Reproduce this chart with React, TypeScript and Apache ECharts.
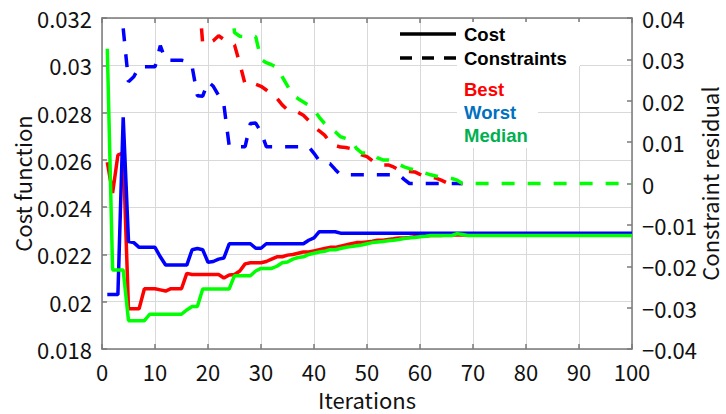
import React, { useEffect, useRef } from "react";
import * as echarts from "echarts";

// Cost function values per iteration (1..100)
const costBest: number[] = [
  0.0259, 0.0246, 0.0262, 0.0263, 0.0197, 0.0197, 0.0197, 0.02055, 0.02055, 0.02055,
  0.0205, 0.02045, 0.02055, 0.02055, 0.02055, 0.0212, 0.02115, 0.02115, 0.02115, 0.02115,
  0.02115, 0.02115, 0.021, 0.02113, 0.02115, 0.0213, 0.0216, 0.02165, 0.02165, 0.02165,
  0.0217, 0.0218, 0.0219, 0.0219, 0.02197, 0.022, 0.02205, 0.0221, 0.0221, 0.02215,
  0.0222, 0.02225, 0.0223, 0.0223, 0.02235, 0.0224, 0.02245, 0.0225, 0.0225, 0.02253,
  0.02256, 0.0226, 0.0226, 0.02263, 0.02266, 0.0227, 0.0227, 0.02272, 0.02275, 0.02277,
  0.02278, 0.0228, 0.0228, 0.0228, 0.02282, 0.02282, 0.02282, 0.02282, 0.02282, 0.02282,
  0.02282, 0.02282, 0.02282, 0.02282, 0.02282, 0.02282, 0.02282, 0.02282, 0.02282, 0.02282,
  0.02282, 0.02282, 0.02282, 0.02282, 0.02282, 0.02282, 0.02282, 0.02282, 0.02282, 0.02282,
  0.02282, 0.02282, 0.02282, 0.02282, 0.02282, 0.02282, 0.02282, 0.02282, 0.02282, 0.02282,
];

const costWorst: number[] = [
  0.0203, 0.0203, 0.0203, 0.0278, 0.02255, 0.0225, 0.0223, 0.0223, 0.0223, 0.0223,
  0.0219, 0.02155, 0.02155, 0.02155, 0.02155, 0.02155, 0.0222, 0.02225, 0.0222, 0.02167,
  0.0217, 0.0218, 0.02185, 0.02245, 0.02245, 0.02245, 0.02245, 0.02245, 0.02226, 0.02226,
  0.02245, 0.02245, 0.02245, 0.02245, 0.02245, 0.02245, 0.02245, 0.02245, 0.0226, 0.0227,
  0.02296, 0.02296, 0.02296, 0.02296, 0.0229, 0.0229, 0.0229, 0.0229, 0.0229, 0.0229,
  0.0229, 0.0229, 0.0229, 0.0229, 0.0229, 0.0229, 0.0229, 0.0229, 0.0229, 0.0229,
  0.0229, 0.0229, 0.0229, 0.0229, 0.0229, 0.0229, 0.0229, 0.0229, 0.0229, 0.0229,
  0.0229, 0.0229, 0.0229, 0.0229, 0.0229, 0.0229, 0.0229, 0.0229, 0.0229, 0.0229,
  0.0229, 0.0229, 0.0229, 0.0229, 0.0229, 0.0229, 0.0229, 0.0229, 0.0229, 0.0229,
  0.0229, 0.0229, 0.0229, 0.0229, 0.0229, 0.0229, 0.0229, 0.0229, 0.0229, 0.0229,
];

const costMedian: number[] = [
  0.0307, 0.02134, 0.02134, 0.02134, 0.0192, 0.0192, 0.0192, 0.0192, 0.01947, 0.01947,
  0.01947, 0.01947, 0.01947, 0.01947, 0.01947, 0.01965, 0.0198, 0.0198, 0.02054, 0.02054,
  0.02054, 0.02054, 0.02054, 0.02054, 0.0211, 0.0211, 0.0211, 0.0211, 0.0213, 0.02141,
  0.02141, 0.02141, 0.0215, 0.02165, 0.02168, 0.0218, 0.02187, 0.0219, 0.022, 0.02205,
  0.0221, 0.02213, 0.0222, 0.0222, 0.02225, 0.0223, 0.02233, 0.02237, 0.0224, 0.02245,
  0.0225, 0.02253, 0.02255, 0.02258, 0.0226, 0.02263, 0.02267, 0.0227, 0.02272, 0.02275,
  0.02277, 0.0228, 0.0228, 0.0228, 0.0228, 0.0228, 0.02288, 0.02284, 0.0228, 0.0228,
  0.0228, 0.0228, 0.0228, 0.0228, 0.0228, 0.0228, 0.0228, 0.0228, 0.0228, 0.0228,
  0.0228, 0.0228, 0.0228, 0.0228, 0.0228, 0.0228, 0.0228, 0.0228, 0.0228, 0.0228,
  0.0228, 0.0228, 0.0228, 0.0228, 0.0228, 0.0228, 0.0228, 0.0228, 0.0228, 0.0228,
];

// Constraint residual values per iteration (1..100); null = not drawn
const N = null;
const conBest: (number | null)[] = [
  N, N, N, N, N, N, N, N, N, N,
  N, N, N, N, N, N, N, 0.05, 0.0338, 0.0338,
  0.0345, 0.0357, 0.0348, 0.0343, 0.0335, 0.029, 0.024, 0.024, 0.024, 0.0235,
  0.0226, 0.0215, 0.0206, 0.019, 0.0178, 0.0176, 0.0172, 0.0165, 0.0152, 0.0137,
  0.0127, 0.0117, 0.01, 0.0092, 0.0088, 0.0087, 0.0084, 0.0075, 0.0069, 0.0065,
  0.0055, 0.0047, 0.0045, 0.0045, 0.004, 0.0033, 0.0029, 0.0029, 0.0028, 0.0022,
  0.0017, 0.0015, 0.0013, 0.0008, 0.0002, 0, 0, 0, N, N,
  N, N, N, N, N, N, N, N, N, N,
  N, N, N, N, N, N, N, N, N, N,
  N, N, N, N, N, N, N, N, N, N,
];

const conWorst: (number | null)[] = [
  N, N, N, 0.0375, 0.0246, 0.0258, 0.0282, 0.0282, 0.0282, 0.0282,
  0.0333, 0.0298, 0.0298, 0.0298, 0.0298, 0.0295, 0.0283, 0.0212, 0.0211, 0.0246,
  0.0235, 0.0213, 0.019, 0.0091, 0.0089, 0.0089, 0.0089, 0.0145, 0.0146, 0.0125,
  0.0089, 0.0089, 0.0089, 0.0089, 0.0089, 0.0089, 0.0089, 0.0089, 0.0089, 0.0073,
  0.0055, 0.005, 0.0048, 0.0034, 0.0021, 0.0021, 0.0021, 0.0021, 0.0021, 0.0021,
  0.0021, 0.0021, 0.0021, 0.0021, 0.0021, 0.0021, 0.001, 0, 0, 0,
  0, 0, 0, 0, 0, 0, 0, 0, N, N,
  N, N, N, N, N, N, N, N, N, N,
  N, N, N, N, N, N, N, N, N, N,
  N, N, N, N, N, N, N, N, N, N,
];

const conMedian: (number | null)[] = [
  N, N, N, N, N, N, N, N, N, N,
  N, N, N, N, N, N, N, N, N, N,
  N, N, N, 0.05, 0.0365, 0.0356, 0.0355, 0.0355, 0.0355, 0.03,
  0.0292, 0.0287, 0.0281, 0.0258, 0.0236, 0.0214, 0.0205, 0.0197, 0.0189, 0.0178,
  0.016, 0.0145, 0.0134, 0.0125, 0.0113, 0.0109, 0.0105, 0.0085, 0.0074, 0.0074,
  0.0073, 0.0062, 0.0057, 0.0057, 0.0055, 0.0047, 0.004, 0.0036, 0.0033, 0.003,
  0.0025, 0.0021, 0.0018, 0.0016, 0.0014, 0.0012, 0.0008, 0, 0, 0,
  0, 0, 0, 0, 0, 0, 0, 0, 0, 0,
  0, 0, 0, 0, 0, 0, 0, 0, 0, 0,
  0, 0, 0, 0, 0, 0, 0, 0, 0, 0,
];

const seriesNames = ["Best", "Worst", "Median"];
const lineColors = ["#ff0000", "#0000ff", "#00ff00"];
const legendTextColors = ["#ff0000", "#0070c0", "#00b050"];

const xTitle = "Iterations";
const yLeftTitle = "Cost function";
const yRightTitle = "Constraint residual";

const FONT = '"Noto Sans CJK JP", "Noto Sans", sans-serif';
const LEGEND_FONT = 'bold 18.5px "Liberation Sans", Arial, sans-serif';
const AXIS_COLOR = "#7a7a7a";
const GRID_COLOR = "#d9d9d9";

const toPairs = (arr: (number | null)[]) => arr.map((v, i) => [i + 1, v]);

export default function App() {
  const ref = useRef<HTMLDivElement>(null);

  useEffect(() => {
    if (!ref.current) return;
    const chart = echarts.init(ref.current, undefined, { renderer: "svg" });

    const costSets = [costBest, costWorst, costMedian];
    const conSets = [conBest, conWorst, conMedian];

    const series: any[] = [];
    costSets.forEach((arr, k) => {
      series.push({
        name: seriesNames[k] + " cost",
        type: "line",
        xAxisIndex: 0,
        yAxisIndex: 0,
        data: toPairs(arr),
        showSymbol: false,
        symbol: "none",
        lineStyle: { color: lineColors[k], width: 3.5 },
        z: 3,
      });
    });
    conSets.forEach((arr, k) => {
      series.push({
        name: seriesNames[k] + " constraints",
        type: "line",
        xAxisIndex: 0,
        yAxisIndex: 1,
        data: toPairs(arr),
        showSymbol: false,
        symbol: "none",
        connectNulls: false,
        lineStyle: { color: lineColors[k], width: 3.5, type: [13, 13] },
        z: 4,
      });
    });

    const labelStyle = { fontFamily: FONT, fontSize: 22, color: "#111", lineHeight: 22 };
    const nameStyle = { fontFamily: FONT, fontSize: 22, color: "#111", lineHeight: 22 };
    const axisLine = { show: true, onZero: false, lineStyle: { color: AXIS_COLOR, width: 1.5 } };
    const axisTick = { show: true, inside: true, length: 5, lineStyle: { color: AXIS_COLOR, width: 1.5 } };

    const option: any = {
      animation: false,
      backgroundColor: "#ffffff",
      grid: {
        left: 102,
        right: 94,
        top: 18,
        bottom: 65,
        containLabel: false,
        outerBoundsMode: "none",
      },
      xAxis: [
        {
          type: "value",
          position: "bottom",
          min: 0,
          max: 100,
          interval: 10,
          name: xTitle,
          nameLocation: "middle",
          nameGap: 39,
          nameMoveOverlap: false,
          nameTextStyle: nameStyle,
          axisLine,
          axisTick,
          axisLabel: { ...labelStyle, margin: 11 },
          splitLine: { show: true, lineStyle: { color: GRID_COLOR, width: 1 } },
        },
        {
          type: "value",
          position: "top",
          min: 0,
          max: 100,
          interval: 10,
          axisLine,
          axisTick,
          axisLabel: { show: false },
          splitLine: { show: false },
        },
      ],
      yAxis: [
        {
          type: "value",
          position: "left",
          min: 0.018,
          max: 0.032,
          interval: 0.002,
          name: yLeftTitle,
          nameLocation: "middle",
          nameGap: 69,
          nameRotate: 90,
          nameMoveOverlap: false,
          nameTextStyle: nameStyle,
          axisLine,
          axisTick,
          axisLabel: {
            ...labelStyle,
            margin: 10,
            formatter: (v: number) => String(parseFloat(v.toFixed(4))),
          },
          splitLine: { show: true, lineStyle: { color: GRID_COLOR, width: 1 } },
        },
        {
          type: "value",
          position: "right",
          min: -0.04,
          max: 0.04,
          interval: 0.01,
          name: yRightTitle,
          nameLocation: "middle",
          nameGap: 66,
          nameRotate: 90,
          nameMoveOverlap: false,
          nameTextStyle: nameStyle,
          axisLine,
          axisTick,
          axisLabel: {
            ...labelStyle,
            margin: 10,
            formatter: (v: number) => String(parseFloat(v.toFixed(4))).replace("-", "\u2212"),
          },
          splitLine: { show: false },
        },
      ],
      series,
      graphic: [
        { type: "rect", z: 1, shape: { x: 457, y: 22, width: 123, height: 44 }, style: { fill: "#ffffff" } },
        { type: "rect", z: 1, shape: { x: 457, y: 66, width: 81, height: 82 }, style: { fill: "#ffffff" } },
        { type: "line", z: 5, shape: { x1: 400, y1: 34, x2: 456, y2: 34 }, style: { stroke: "#000", lineWidth: 3.5 } },
        {
          type: "line",
          z: 5,
          shape: { x1: 400, y1: 58, x2: 456, y2: 58 },
          style: { stroke: "#000", lineWidth: 3.5, lineDash: [12, 10] },
        },
        { type: "text", z: 5, x: 464, y: 34, style: { text: "Cost", font: LEGEND_FONT, fill: "#000", verticalAlign: "middle" } },
        { type: "text", z: 5, x: 464, y: 58, style: { text: "Constraints", font: LEGEND_FONT, fill: "#000", verticalAlign: "middle" } },
        { type: "text", z: 5, x: 464, y: 89, style: { text: seriesNames[0], font: LEGEND_FONT, fill: legendTextColors[0], verticalAlign: "middle" } },
        { type: "text", z: 5, x: 464, y: 112.5, style: { text: seriesNames[1], font: LEGEND_FONT, fill: legendTextColors[1], verticalAlign: "middle" } },
        { type: "text", z: 5, x: 464, y: 135.5, style: { text: seriesNames[2], font: LEGEND_FONT, fill: legendTextColors[2], verticalAlign: "middle" } },
      ],
    };

    chart.setOption(option);
    return () => chart.dispose();
  }, []);

  return (
    <div
      ref={ref}
      style={{ position: "fixed", left: 0, top: 0, width: 726, height: 414, background: "#fff" }}
    />
  );
}
